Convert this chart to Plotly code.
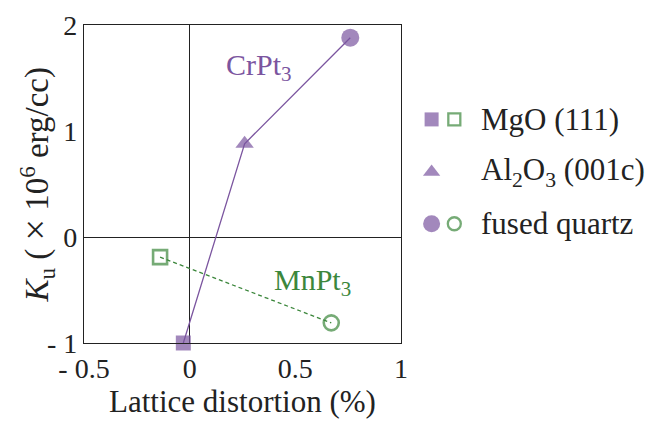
import plotly.graph_objects as go

# Uniaxial anisotropy vs lattice distortion for CrPt3 and MnPt3 films
substrates = ["MgO (111)", "Al2O3 (001c)", "fused quartz"]

crpt3_distortion = [-0.03, 0.26, 0.76]
crpt3_ku = [-1.0, 0.88, 1.88]

mnpt3_distortion = [-0.14, 0.67]
mnpt3_ku = [-0.19, -0.81]

x_ticks = [-0.5, 0, 0.5, 1]
x_tick_labels = ["- 0.5", "0", "0.5", "1"]
y_ticks = [-1, 0, 1, 2]
y_tick_labels = ["- 1", "0", "1", "2"]

PURPLE = "#7b559f"
GREEN = "#3c873c"
INK = "#222222"
FONT = "Liberation Serif"

W, H = 655, 421
ml, mr, mt, mb = 84, 10, 23, 78
pw = W - ml - mr
ph = H - mt - mb
main_right = (405 - ml) / pw
leg_left = (412 - ml) / pw

fig = go.Figure()

fig.add_trace(go.Scatter(
    x=crpt3_distortion, y=crpt3_ku, mode="lines+markers",
    line=dict(color=PURPLE, width=1.3),
    marker=dict(symbol=["square", "triangle-up", "circle"], size=[15, 16, 18],
                color=PURPLE, line=dict(width=0)),
    showlegend=False, cliponaxis=False,
))

fig.add_trace(go.Scatter(
    x=mnpt3_distortion, y=mnpt3_ku, mode="lines+markers",
    line=dict(color=GREEN, width=1.3, dash="4px,3px"),
    marker=dict(symbol=["square-open", "circle-open"], size=[14, 15],
                color=GREEN, line=dict(width=2.6, color=GREEN)),
    showlegend=False, cliponaxis=False,
))

# Custom legend in its own panel to the right, axes measured in pixels
leg_rows = [118, 171, 223]
leg_filled = ["square", "triangle-up", "circle"]
fig.add_trace(go.Scatter(
    x=[436] * 3, y=leg_rows, mode="markers", xaxis="x2", yaxis="y2",
    marker=dict(symbol=leg_filled, size=[14, 15, 17], color=PURPLE, line=dict(width=0)),
    showlegend=False, hoverinfo="skip", cliponaxis=False,
))
fig.add_trace(go.Scatter(
    x=[459, 459], y=[leg_rows[0], leg_rows[2]], mode="markers", xaxis="x2", yaxis="y2",
    marker=dict(symbol=["square-open", "circle-open"], size=[12, 13], color=GREEN,
                line=dict(width=2.3, color=GREEN)),
    showlegend=False, hoverinfo="skip", cliponaxis=False,
))
leg_text = ["MgO (111)", "Al<sub>2</sub>O<sub>3</sub> (001c)", "fused quartz"]
for yy, t in zip(leg_rows, leg_text):
    fig.add_annotation(x=484, y=yy, xref="x2", yref="y2", text=t, showarrow=False,
                       xanchor="left", yanchor="middle",
                       font=dict(family=FONT, size=31, color=INK))

fig.add_annotation(x=0.33, y=1.6, text="CrPt<sub>3</sub>", showarrow=False,
                   font=dict(family=FONT, size=30, color=PURPLE))
fig.add_annotation(x=0.58, y=-0.42, text="MnPt<sub>3</sub>", showarrow=False,
                   font=dict(family=FONT, size=30, color=GREEN))

# Vertical axis title placed as rotated text left of the tick labels
fig.add_annotation(
    x=(37 - ml) / pw, y=(H - mb - 184) / ph, xref="paper", yref="paper",
    text="<i>K</i><sub>u</sub> ( <span style='font-size:38px'>\u00d7</span> 10<sup>6</sup> erg/cc)",
    textangle=-90, showarrow=False, xanchor="center", yanchor="middle",
    font=dict(family=FONT, size=33, color=INK),
)

fig.update_layout(
    width=W, height=H,
    margin=dict(l=ml, r=mr, t=mt, b=mb),
    paper_bgcolor="white", plot_bgcolor="rgba(0,0,0,0)",
    font=dict(family=FONT, size=28, color=INK),
    xaxis=dict(
        domain=[0, main_right], range=[-0.5, 1],
        tickvals=x_ticks, ticktext=x_tick_labels, ticks="",
        showgrid=False, zeroline=True, zerolinecolor=INK, zerolinewidth=1,
        showline=True, linecolor=INK, linewidth=1.2, mirror=True,
        tickfont=dict(family=FONT, size=28, color=INK),
        title=dict(text="Lattice distortion (%)", font=dict(family=FONT, size=31, color=INK), standoff=6),
    ),
    yaxis=dict(
        range=[-1, 2],
        tickvals=y_ticks, ticktext=y_tick_labels, ticks="",
        showgrid=False, zeroline=True, zerolinecolor=INK, zerolinewidth=1,
        showline=True, linecolor=INK, linewidth=1.2, mirror=True,
        tickfont=dict(family=FONT, size=28, color=INK),
    ),
    xaxis2=dict(domain=[leg_left, 1], range=[412, W - mr], visible=False, fixedrange=True),
    yaxis2=dict(domain=[0, 1], range=[H - mb, mt], visible=False, fixedrange=True, anchor="x2"),
)

fig.write_html("out.html")
